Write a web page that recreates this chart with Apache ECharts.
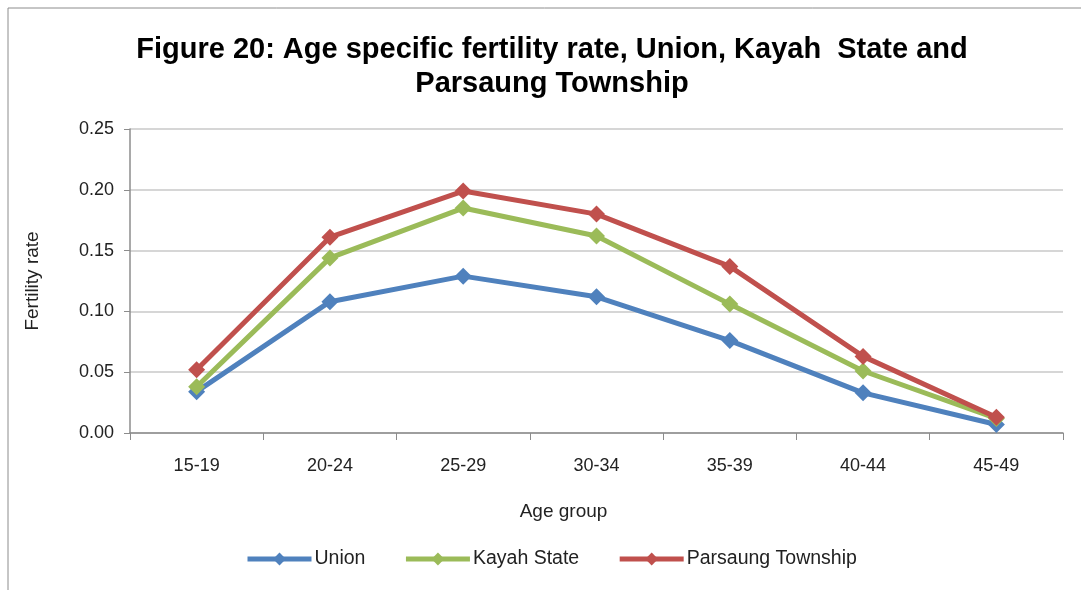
<!DOCTYPE html>
<html><head><meta charset="utf-8">
<script src="https://cdn.jsdelivr.net/npm/echarts@6/dist/echarts.min.js"></script>
<style>html,body{margin:0;padding:0;background:#fff}#c{width:1081px;height:590px}</style>
</head><body><div id="c"></div>
<script>
const categories = ['15-19','20-24','25-29','30-34','35-39','40-44','45-49'];
const unionVals = [0.034, 0.108, 0.129, 0.112, 0.076, 0.033, 0.007];
const kayahVals = [0.038, 0.144, 0.185, 0.162, 0.106, 0.051, 0.012];
const parsaungVals = [0.052, 0.161, 0.199, 0.180, 0.137, 0.063, 0.013];
const seriesNames = ['Union', 'Kayah State', 'Parsaung Township'];
const colors = ['#4F81BD', '#9BBB59', '#C0504D'];
const F = 'Liberation Sans, Arial, sans-serif';

const chart = echarts.init(document.getElementById('c'));
function mk(name, data, color) {
  return {
    name, type: 'line', data, symbol: 'diamond', symbolSize: 17,
    lineStyle: { width: 5, color }, itemStyle: { color },
    emphasis: { disabled: true }
  };
}
chart.setOption({
  animation: false,
  title: {
    text: 'Figure 20: Age specific fertility rate, Union, Kayah  State and\nParsaung Township',
    left: 547, top: 28, textAlign: 'center',
    textStyle: { fontFamily: F, fontSize: 29, fontWeight: 'bold', color: '#000', lineHeight: 34 }
  },
  graphic: [
    { type: 'polyline', shape: { points: [[8, 590], [8, 8], [1081, 8]] }, style: { stroke: '#8c8c8c', lineWidth: 1, fill: null } }
  ],
  legend: {
    data: seriesNames, left: 240, top: 544, itemWidth: 64, itemHeight: 16, itemGap: 38,
    lineStyle: { width: 5 },
    textStyle: { fontFamily: F, fontSize: 19.5, color: '#222', padding: [0, 0, 0, -2] }
  },
  grid: { left: 130, right: 18, top: 129, bottom: 157 },
  xAxis: {
    type: 'category', data: categories, boundaryGap: true,
    name: 'Age group', nameLocation: 'middle', nameGap: 69,
    nameTextStyle: { fontFamily: F, fontSize: 19, color: '#222', padding: [0, 66, 0, 0] },
    axisLine: { lineStyle: { color: '#8c8c8c', width: 1.5 } },
    axisTick: { show: true, alignWithLabel: false, length: 7, lineStyle: { color: '#8c8c8c' } },
    axisLabel: { fontFamily: F, fontSize: 18, color: '#222', margin: 24 }
  },
  yAxis: {
    type: 'value', min: 0, max: 0.25, interval: 0.05,
    name: 'Fertility rate', nameLocation: 'middle', nameGap: 88, nameRotate: 90,
    nameTextStyle: { fontFamily: F, fontSize: 19, color: '#222' },
    axisLine: { show: true, lineStyle: { color: '#8c8c8c', width: 1.5 } },
    axisTick: { show: true, length: 6, lineStyle: { color: '#8c8c8c' } },
    axisLabel: { fontFamily: F, fontSize: 18, color: '#222', margin: 16, formatter: v => v.toFixed(2) },
    splitLine: { lineStyle: { color: '#c8c8c8', width: 1.5 } }
  },
  series: [
    mk(seriesNames[0], unionVals, colors[0]),
    mk(seriesNames[1], kayahVals, colors[1]),
    mk(seriesNames[2], parsaungVals, colors[2])
  ]
});
</script></body></html>
